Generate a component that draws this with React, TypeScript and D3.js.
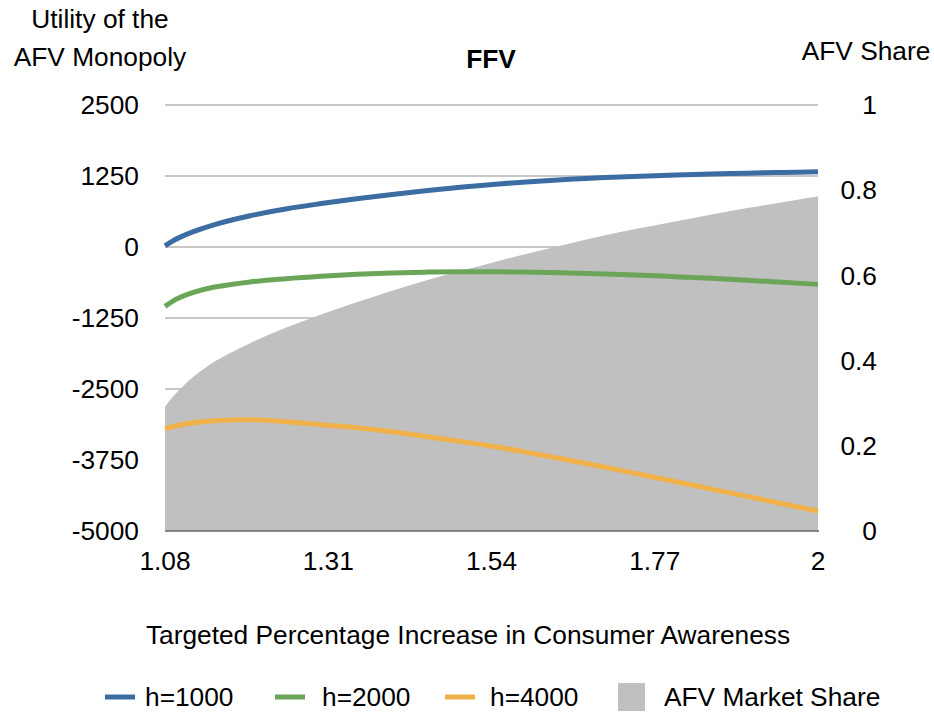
import React from "react";
import * as d3 from "d3";

const xValues = [1.08, 1.09, 1.1, 1.12, 1.15, 1.2, 1.25, 1.3, 1.35, 1.4, 1.45, 1.5, 1.55, 1.6, 1.65, 1.7, 1.75, 1.8, 1.85, 1.9, 1.95, 2.0];
const h1000 = [20, 100, 165, 270, 395, 550, 670, 765, 850, 925, 995, 1057, 1110, 1155, 1192, 1222, 1247, 1268, 1285, 1300, 1313, 1325];
const h2000 = [-1045, -960, -895, -800, -705, -615, -558, -514, -480, -456, -442, -436, -437, -445, -458, -475, -496, -523, -551, -584, -621, -658];
const h4000 = [-3204, -3164, -3137, -3095, -3058, -3042, -3075, -3129, -3181, -3252, -3340, -3428, -3525, -3639, -3754, -3877, -4005, -4132, -4262, -4391, -4520, -4648];
const afvShare = [0.292, 0.313, 0.331, 0.362, 0.398, 0.441, 0.477, 0.508, 0.537, 0.564, 0.589, 0.612, 0.634, 0.655, 0.675, 0.694, 0.711, 0.727, 0.743, 0.758, 0.772, 0.786];

const xTicks = [1.08, 1.31, 1.54, 1.77, 2];
const xTickLabels = ["1.08", "1.31", "1.54", "1.77", "2"];
const leftTicks = [2500, 1250, 0, -1250, -2500, -3750, -5000];
const rightTicks = [1, 0.8, 0.6, 0.4, 0.2, 0];
const rightTickLabels = ["1", "0.8", "0.6", "0.4", "0.2", "0"];

const seriesNames = ["h=1000", "h=2000", "h=4000"];
const seriesColors = ["#3b6ca2", "#6ba558", "#f0b14b"];
const areaName = "AFV Market Share";
const areaColor = "#c0c0c0";

const W = 934;
const H = 715;
const FONT = "'Liberation Sans', Arial, Helvetica, sans-serif";
const FS = 26.3;

export default function App() {
  const x = d3.scaleLinear().domain([1.08, 2]).range([165, 818]);
  const yL = d3.scaleLinear().domain([-5000, 2500]).range([531, 105]);
  const yR = d3.scaleLinear().domain([0, 1]).range([531, 105]);

  const seriesData = [h1000, h2000, h4000];
  const line = d3
    .line<number>()
    .x((_, i) => x(xValues[i]))
    .y((d) => yL(d))
    .curve(d3.curveCatmullRom.alpha(0.5));
  const area = d3
    .area<number>()
    .x((_, i) => x(xValues[i]))
    .y0(yR(0))
    .y1((d) => yR(d))
    .curve(d3.curveCatmullRom.alpha(0.5));

  const legendItems = [
    { x: 105, textX: 145 },
    { x: 275, textX: 322 },
    { x: 445, textX: 490 },
  ];

  return (
    <svg
      width={W}
      height={H}
      style={{ position: "absolute", left: 0, top: 0, background: "#fff" }}
      fontFamily={FONT}
    >
      {leftTicks.slice(0, -1).map((t) => (
        <line key={t} x1={165} x2={818} y1={yL(t)} y2={yL(t)} stroke="#b4b4b4" strokeWidth={1.5} />
      ))}
      <path d={area(afvShare) || ""} fill={areaColor} />
      <line x1={165} x2={819} y1={yL(-5000)} y2={yL(-5000)} stroke="#666" strokeWidth={1.5} />
      {seriesData.map((s, i) => (
        <path key={i} d={line(s) || ""} fill="none" stroke={seriesColors[i]} strokeWidth={5} />
      ))}
      {leftTicks.map((t) => (
        <text key={t} x={139} y={yL(t)} dy="0.35em" textAnchor="end" fontSize={FS} fill="#000">
          {t}
        </text>
      ))}
      {rightTicks.map((t, i) => (
        <text key={t} x={877} y={yR(t)} dy="0.35em" textAnchor="end" fontSize={FS} fill="#000">
          {rightTickLabels[i]}
        </text>
      ))}
      {xTicks.map((t, i) => (
        <text key={t} x={x(t)} y={570} textAnchor="middle" fontSize={FS} fill="#000">
          {xTickLabels[i]}
        </text>
      ))}
      <text x={100} y={28} textAnchor="middle" fontSize={FS}>Utility of the</text>
      <text x={100} y={66} textAnchor="middle" fontSize={FS}>AFV Monopoly</text>
      <text x={491} y={68} textAnchor="middle" fontSize={FS} fontWeight="bold">FFV</text>
      <text x={866} y={60} textAnchor="middle" fontSize={FS}>AFV Share</text>
      <text x={468} y={644} textAnchor="middle" fontSize={FS}>
        Targeted Percentage Increase in Consumer Awareness
      </text>
      {legendItems.map((it, i) => (
        <g key={i}>
          <line x1={it.x} x2={it.x + 30} y1={697} y2={697} stroke={seriesColors[i]} strokeWidth={5} />
          <text x={it.textX} y={706} fontSize={FS}>{seriesNames[i]}</text>
        </g>
      ))}
      <rect x={618} y={683} width={27} height={28} fill={areaColor} />
      <text x={664} y={706} fontSize={FS}>{areaName}</text>
    </svg>
  );
}
